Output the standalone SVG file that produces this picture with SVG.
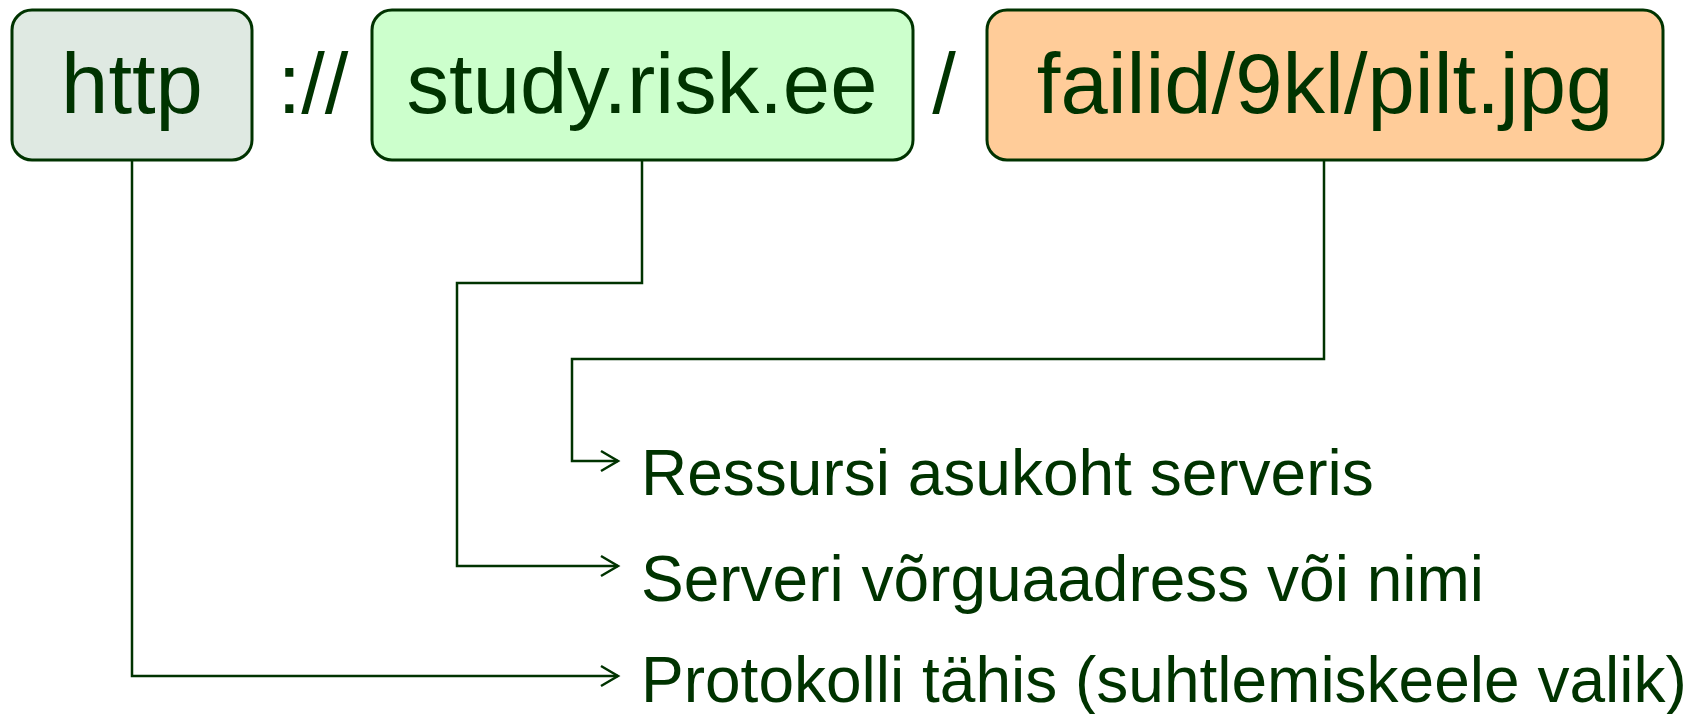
<svg xmlns="http://www.w3.org/2000/svg" width="1699" height="714" viewBox="0 0 1699 714">
<style>
.box{stroke:#003300;stroke-width:3}
.big{font-family:"Liberation Sans",Arial,sans-serif;font-size:85px;fill:#003300;text-anchor:middle}
.lbl{font-family:"Liberation Sans",Arial,sans-serif;font-size:64px;fill:#003300}
.con{fill:none;stroke:#003300;stroke-width:2.5}
</style>
<defs>
<marker id="arr" markerUnits="userSpaceOnUse" markerWidth="24" markerHeight="24" viewBox="-20 -12 24 24" refX="0" refY="0" orient="auto">
<path d="M-17,-10 L0,0 L-17,10" fill="none" stroke="#003300" stroke-width="2.5"/>
</marker>
</defs>
<rect width="1699" height="714" fill="#ffffff"/>
<g id="node-http">
<rect class="box" x="12" y="10" width="240" height="150" rx="20" fill="#DFE9E2"/>
<text class="big" x="132" y="113">http</text>
</g>
<text class="big" x="313" y="113">://</text>
<g id="node-host">
<rect class="box" x="372" y="10" width="541" height="150" rx="20" fill="#CCFFCC"/>
<text class="big" x="642" y="113">study.risk.ee</text>
</g>
<text class="big" x="944" y="113">/</text>
<g id="node-path">
<rect class="box" x="987" y="10" width="676" height="150" rx="20" fill="#FFCC99"/>
<text class="big" x="1325" y="113">failid/9kl/pilt.jpg</text>
</g>
<g id="connectors">
<polyline class="con" points="1324,160 1324,359 572,359 572,461 618,461" marker-end="url(#arr)"/>
<polyline class="con" points="642,160 642,283 457,283 457,566 618,566" marker-end="url(#arr)"/>
<polyline class="con" points="132,160 132,676 618,676" marker-end="url(#arr)"/>
</g>
<g id="labels">
<text class="lbl" x="641" y="495">Ressursi asukoht serveris</text>
<text class="lbl" x="641" y="601">Serveri võrguaadress või nimi</text>
<text class="lbl" x="641" y="702">Protokolli tähis (suhtlemiskeele valik)</text>
</g>
</svg>
